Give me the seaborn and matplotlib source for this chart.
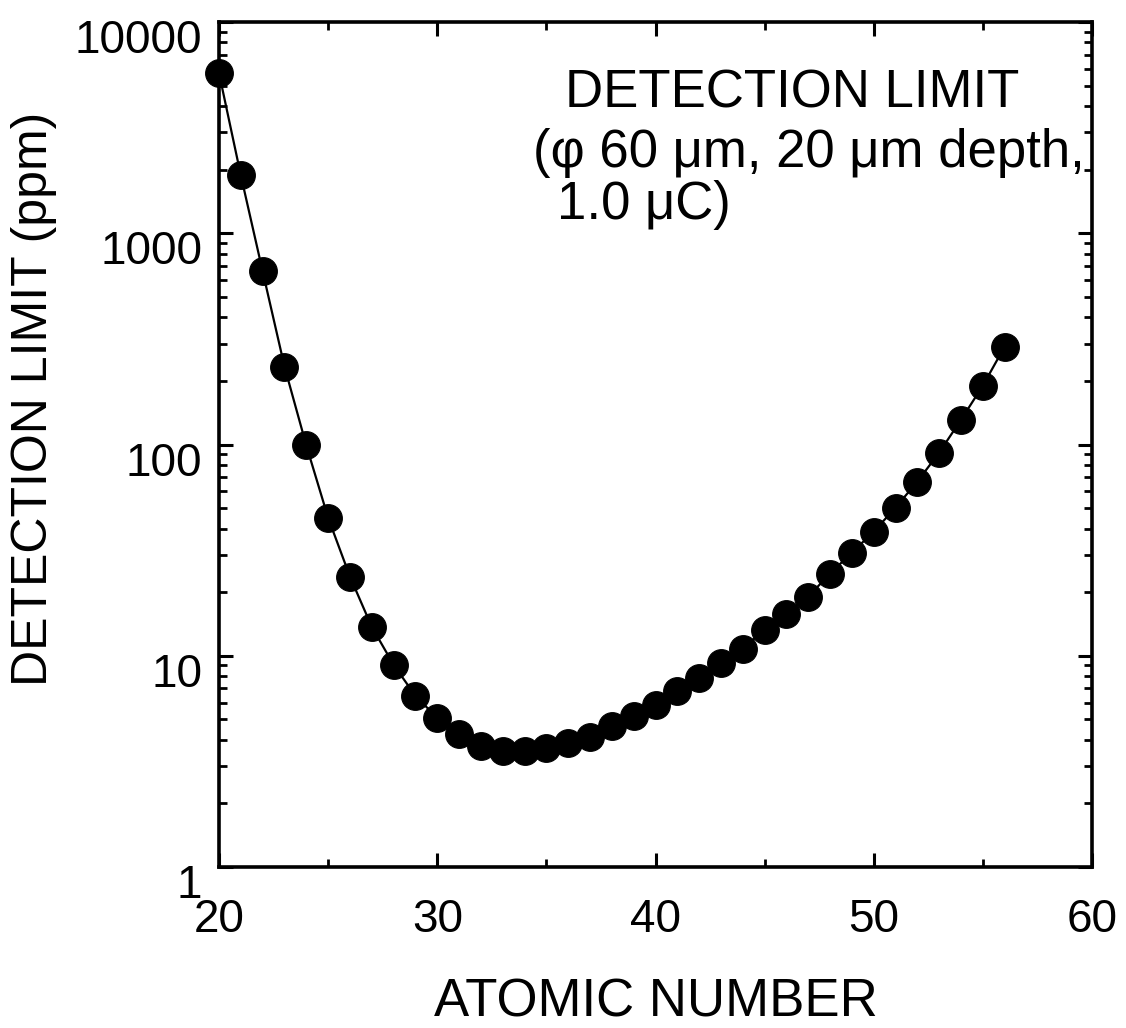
import numpy as np
import pandas as pd
import matplotlib
matplotlib.use("Agg")
import matplotlib.pyplot as plt
import matplotlib.ticker as mticker
import matplotlib.transforms as mtransforms
import seaborn as sns

# Data
atomic_number = [20, 21, 22, 23, 24, 25, 26, 27, 28, 29, 30, 31, 32, 33, 34, 35, 36, 37, 38,
                 39, 40, 41, 42, 43, 44, 45, 46, 47, 48, 49, 50, 51, 52, 53, 54, 55, 56]
detection_limit = [5730, 1880, 660, 234, 99, 45, 23.7, 13.7, 9.06, 6.46, 5.08, 4.27, 3.74,
                   3.55, 3.55, 3.66, 3.87, 4.13, 4.66, 5.2, 5.86, 6.83, 7.87, 9.27, 10.8,
                   13.3, 15.8, 19.05, 24.5, 30.8, 38.7, 50.3, 66.8, 91.6, 131, 190, 291]
x_ticks = [20, 30, 40, 50, 60]
y_ticks = [1, 10, 100, 1000, 10000]
y_tick_labels = ["1", "10", "100", "1000", "10000"]

df = pd.DataFrame({"Z": atomic_number, "DL": detection_limit})

sns.set_theme(style="ticks")
plt.rcParams['font.family'] = ['Liberation Sans', 'DejaVu Sans']
plt.rcParams['text.color'] = 'black'
plt.rcParams['axes.labelcolor'] = 'black'
plt.rcParams['xtick.color'] = 'black'
plt.rcParams['ytick.color'] = 'black'
plt.rcParams['xtick.labelcolor'] = 'black'
plt.rcParams['ytick.labelcolor'] = 'black'

fig = plt.figure(figsize=(11.26, 10.28), dpi=100)
ax = fig.add_axes([219/1126, 1 - 867/1028, (1092-219)/1126, (867-22)/1028])

sns.lineplot(data=df, x="Z", y="DL", ax=ax, color="black", linewidth=1.6,
             marker="o", markersize=20, markeredgecolor="black", markerfacecolor="black",
             clip_on=False, zorder=3)

ax.set_yscale("log")
ax.set_xlim(20, 60)
ax.set_ylim(1, 10000)
ax.set_xticks(x_ticks)
ax.set_xticklabels([str(v) for v in x_ticks])
ax.xaxis.set_minor_locator(mticker.MultipleLocator(5))
ax.set_yticks(y_ticks)
ax.set_yticklabels(y_tick_labels)
ax.yaxis.set_minor_locator(mticker.LogLocator(base=10, subs=np.arange(2, 10)))
ax.yaxis.set_minor_formatter(mticker.NullFormatter())

for s in ax.spines.values():
    s.set_linewidth(2.6)
    s.set_color("black")

ax.tick_params(which="both", direction="in", top=True, right=True, color="black")
ax.tick_params(which="major", length=10, width=2.2)
ax.tick_params(which="minor", length=6, width=2.0)
ax.tick_params(axis="x", which="major", labelsize=33, pad=22, labelcolor="black")
ax.tick_params(axis="y", which="major", labelsize=33, pad=12, labelcolor="black")

# y tick labels sit slightly below their ticks in the reference
offset = mtransforms.ScaledTranslation(0, -14/100, fig.dpi_scale_trans)
for lab in ax.get_yticklabels():
    lab.set_transform(lab.get_transform() + offset)

ax.set_xlabel("ATOMIC NUMBER", fontsize=38, labelpad=26, color="black")
ax.set_ylabel("DETECTION LIMIT (ppm)", fontsize=36, color="black")
ax.yaxis.set_label_coords((57 - 219) / 873, (867 - 399) / 845)

ax.text((565 - 219) / 873, 0.945, "DETECTION LIMIT", transform=ax.transAxes, fontsize=38,
        ha="left", va="top", color="black")
ax.text((533 - 219) / 873, 0.874, "(\u03c6 60 \u03bcm, 20 \u03bcm depth,", transform=ax.transAxes,
        fontsize=38, ha="left", va="top", color="black")
ax.text((557 - 219) / 873, 0.813, "1.0 \u03bcC)", transform=ax.transAxes, fontsize=38,
        ha="left", va="top", color="black")

ax.set_facecolor("white")
fig.patch.set_facecolor("white")
fig.savefig("out.png", dpi=100, facecolor="white")
